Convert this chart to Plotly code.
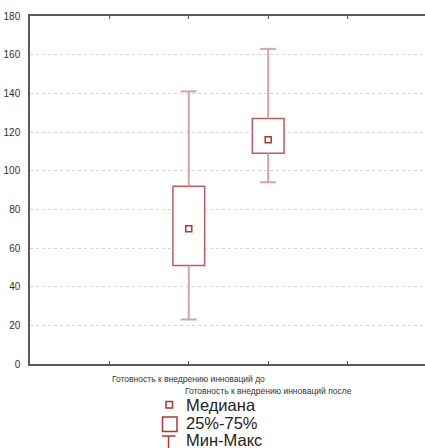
import plotly.graph_objects as go

# ---- data ----
categories = ["Готовность к внедрению инноваций до",
              "Готовность к внедрению инноваций после"]
cat_pos = [2, 3]
minimum = [23, 94]
q1 = [51, 109]
median = [70, 116]
q3 = [92, 127]
maximum = [141, 163]
y_ticks = [0, 20, 40, 60, 80, 100, 120, 140, 160, 180]
legend_labels = ["Медиана", "25%-75%", "Мин-Макс"]

# ---- styles ----
BOX_COL = "#bf5a5a"
WHISK_COL = "#d9a3a3"
MED_COL = "#b03636"
AXIS_COL = "#5a5a5a"
BOX_W = 0.4
CAP_HALF = 0.1

FIG_W, FIG_H = 425, 448
M_L, M_T, M_R, M_B = 30, 16, 0, 84
PW = FIG_W - M_L - M_R
PH = FIG_H - M_T - M_B


def px(xp):  # pixel x -> paper
    return (xp - M_L) / PW


def py(yp):  # pixel y -> paper
    return (FIG_H - M_B - yp) / PH


fig = go.Figure()

# whiskers (vertical stems + caps)
wx, wy = [], []
for x, lo, a, b, hi in zip(cat_pos, minimum, q1, q3, maximum):
    wx += [x, x, None, x, x, None, x - CAP_HALF, x + CAP_HALF, None, x - CAP_HALF, x + CAP_HALF, None]
    wy += [b, hi, None, lo, a, None, hi, hi, None, lo, lo, None]

fig.add_trace(go.Scatter(
    x=wx, y=wy, mode="lines", name="Мин-Макс",
    line=dict(color=WHISK_COL, width=2), showlegend=False, hoverinfo="skip"))

# boxes 25%-75%
fig.add_trace(go.Bar(
    x=cat_pos, y=[b - a for a, b in zip(q1, q3)], base=q1, width=BOX_W,
    name="25%-75%", marker=dict(color="white", line=dict(color=BOX_COL, width=1.5)),
    showlegend=False))

# median
fig.add_trace(go.Scatter(
    x=cat_pos, y=median, mode="markers", name="Медиана",
    marker=dict(symbol="square-open", size=6, color=MED_COL, line=dict(width=1.5)),
    showlegend=False))

# category labels (staggered like the reference)
for i, (x, lab) in enumerate(zip(cat_pos, categories)):
    fig.add_annotation(x=x, xref="x", y=0, yref="paper", yanchor="top",
                       yshift=-8 - 12 * i, text=lab, showarrow=False,
                       font=dict(family="Liberation Sans, Arial", size=8.5, color="#333"))

# legend (key below the chart)
leg_y = [404.5, 422.5, 440]
for lab, yy in zip(legend_labels, leg_y):
    fig.add_annotation(x=px(184), xref="paper", xanchor="left", y=py(yy), yref="paper",
                       yanchor="middle", text=lab, showarrow=False,
                       font=dict(family="Liberation Sans, Arial", size=16.5, color="#222"))
# median key
fig.add_shape(type="rect", xref="paper", yref="paper",
              x0=px(166), x1=px(172.5), y0=py(401.5), y1=py(408),
              line=dict(color=MED_COL, width=1.5), fillcolor="white")
# box key
fig.add_shape(type="rect", xref="paper", yref="paper",
              x0=px(162.5), x1=px(177), y0=py(417), y1=py(431.5),
              line=dict(color=MED_COL, width=1.5), fillcolor="white")
# min-max key
fig.add_shape(type="line", xref="paper", yref="paper",
              x0=px(162), x1=px(175.5), y0=py(436), y1=py(436),
              line=dict(color=MED_COL, width=1.5))
fig.add_shape(type="line", xref="paper", yref="paper",
              x0=px(168.5), x1=px(168.5), y0=py(436), y1=py(452),
              line=dict(color=MED_COL, width=1.5))

fig.update_layout(
    width=FIG_W, height=FIG_H,
    margin=dict(l=M_L, r=M_R, t=M_T, b=M_B, autoexpand=False),
    paper_bgcolor="white", plot_bgcolor="white",
    font=dict(family="Liberation Sans, Arial", color="#333"),
    barmode="overlay",
    showlegend=False,
    xaxis=dict(range=[0, 4.975], tickvals=[1, 2, 3, 4], showticklabels=False,
               ticks="inside", ticklen=3, tickcolor=AXIS_COL, showgrid=False,
               showline=True, linecolor=AXIS_COL, linewidth=1.5, mirror="ticks",
               zeroline=False),
    yaxis=dict(range=[0, 180], tickvals=y_ticks, ticks="", showgrid=True,
               gridcolor="#d5d5d5", griddash="dot", gridwidth=1,
               showline=True, linecolor=AXIS_COL, linewidth=1.5, mirror=True,
               zeroline=False, tickfont=dict(size=10, color="#333"), ticklabelstandoff=6),
)

fig.write_html("out.html",
               config={"displayModeBar": False},
               post_script="document.body.style.margin='0px';document.body.style.overflow='hidden';")
